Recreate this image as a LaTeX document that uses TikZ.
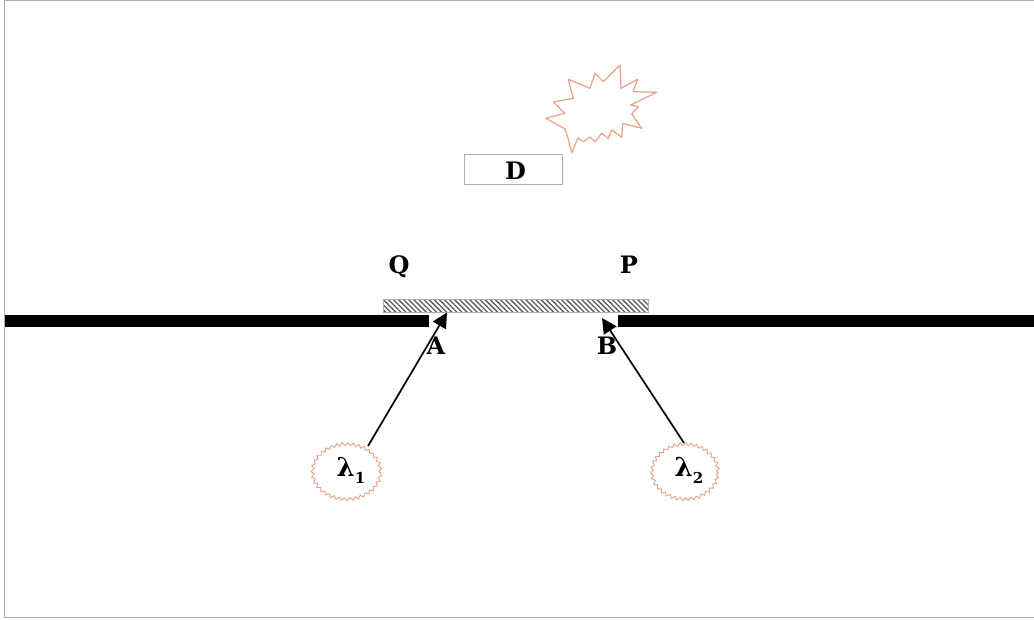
\documentclass[tikz,border=0pt]{standalone}
\usepackage{fontspec}
\setmainfont{DejaVu Serif}
\usetikzlibrary{patterns,patterns.meta,decorations.pathmorphing,shapes.geometric,arrows.meta}
\definecolor{burst}{RGB}{232,160,135}
\definecolor{frame}{RGB}{175,175,175}
\begin{document}
\begin{tikzpicture}[x=1pt,y=-1pt,
  lbl/.style={font=\fontsize{24}{28}\selectfont\bfseries, inner sep=0pt},
  wall/.style={line width=12.5pt, line cap=butt},
  ray/.style={line width=1.7pt, -{Triangle[width=15pt,length=15pt]}},
  wavy/.style={draw=burst, ellipse, line width=0.9pt, decorate,
    decoration={snake, segment length=5.5pt, amplitude=1.5pt},
    inner sep=0pt},
  lam/.style={font=\fontsize{26}{30}\selectfont\bfseries, inner sep=0pt}
]
\useasboundingbox (0,0) rectangle (1034,619);
\draw[frame, line width=1pt] (4.5,0.5) rectangle (1040,617.5);

% starburst
\draw[burst, line width=1.2pt, line join=round]
 (620,65) -- (621,88.3) -- (637.3,79.3) -- (633.3,91.7) -- (656.7,92.3)
 -- (630.7,105) -- (638.3,106.7) -- (631.7,114) -- (641.7,128.3) -- (622.7,123.3)
 -- (621.7,137.3) -- (611.7,130) -- (608.3,138.3) -- (601.7,133.3) -- (595,141.7)
 -- (590,137) -- (583.3,141.7) -- (578,138) -- (571.7,152.7) -- (568,138) -- (565,129)
 -- (546,118.3) -- (565,113.3) -- (553.3,102) -- (573.3,98.3) -- (568.3,79.3)
 -- (590,88.3) -- (595,73.3) -- (603.3,81.7) -- cycle;

% D box
\node[draw=frame, line width=1pt, minimum width=98pt, minimum height=30pt, inner sep=0pt] (Dbox) at (513.3,169.5) {};
\node[lbl] (D) at (515.5,171) {D};

% labels
\node[lbl] (Q) at (399,266.5) {Q};
\node[lbl] (P) at (629,264.5) {P};
\node[lbl] (A) at (436,346) {A};
\node[lbl] (B) at (607,346) {B};

% hatched bar
\node[draw=frame, line width=0.8pt,
  pattern={Lines[angle=135, distance=3.6pt, line width=1.3pt]}, pattern color=black!65,
  minimum width=265pt, minimum height=13pt, inner sep=0pt] (bar) at (516.3,305.8) {};

% walls
\coordinate (wl0) at (4.5,321);
\coordinate (wl1) at (428.5,321);
\coordinate (wr0) at (618,321);
\coordinate (wr1) at (1034,321);
\draw[wall] (wl0) -- (wl1);
\draw[wall] (wr0) -- (wr1);

% sources
\node[wavy, minimum width=68pt, minimum height=55pt] (L1) at (346.5,473) {};
\node[wavy, minimum width=66pt, minimum height=55pt] (L2) at (685,473) {};
\node[lam] (l1t) at (351,470) {λ\raisebox{-7pt}{\fontsize{15}{17}\selectfont 1}};
\node[lam] (l2t) at (689,470) {λ\raisebox{-7pt}{\fontsize{15}{17}\selectfont 2}};

% rays
\coordinate (s1) at (368,446);
\coordinate (tA) at (447,312.5);
\coordinate (s2) at (684,443);
\coordinate (tB) at (602,318);
\draw[ray] (s1) -- (tA);
\draw[ray] (s2) -- (tB);
\end{tikzpicture}
\end{document}
